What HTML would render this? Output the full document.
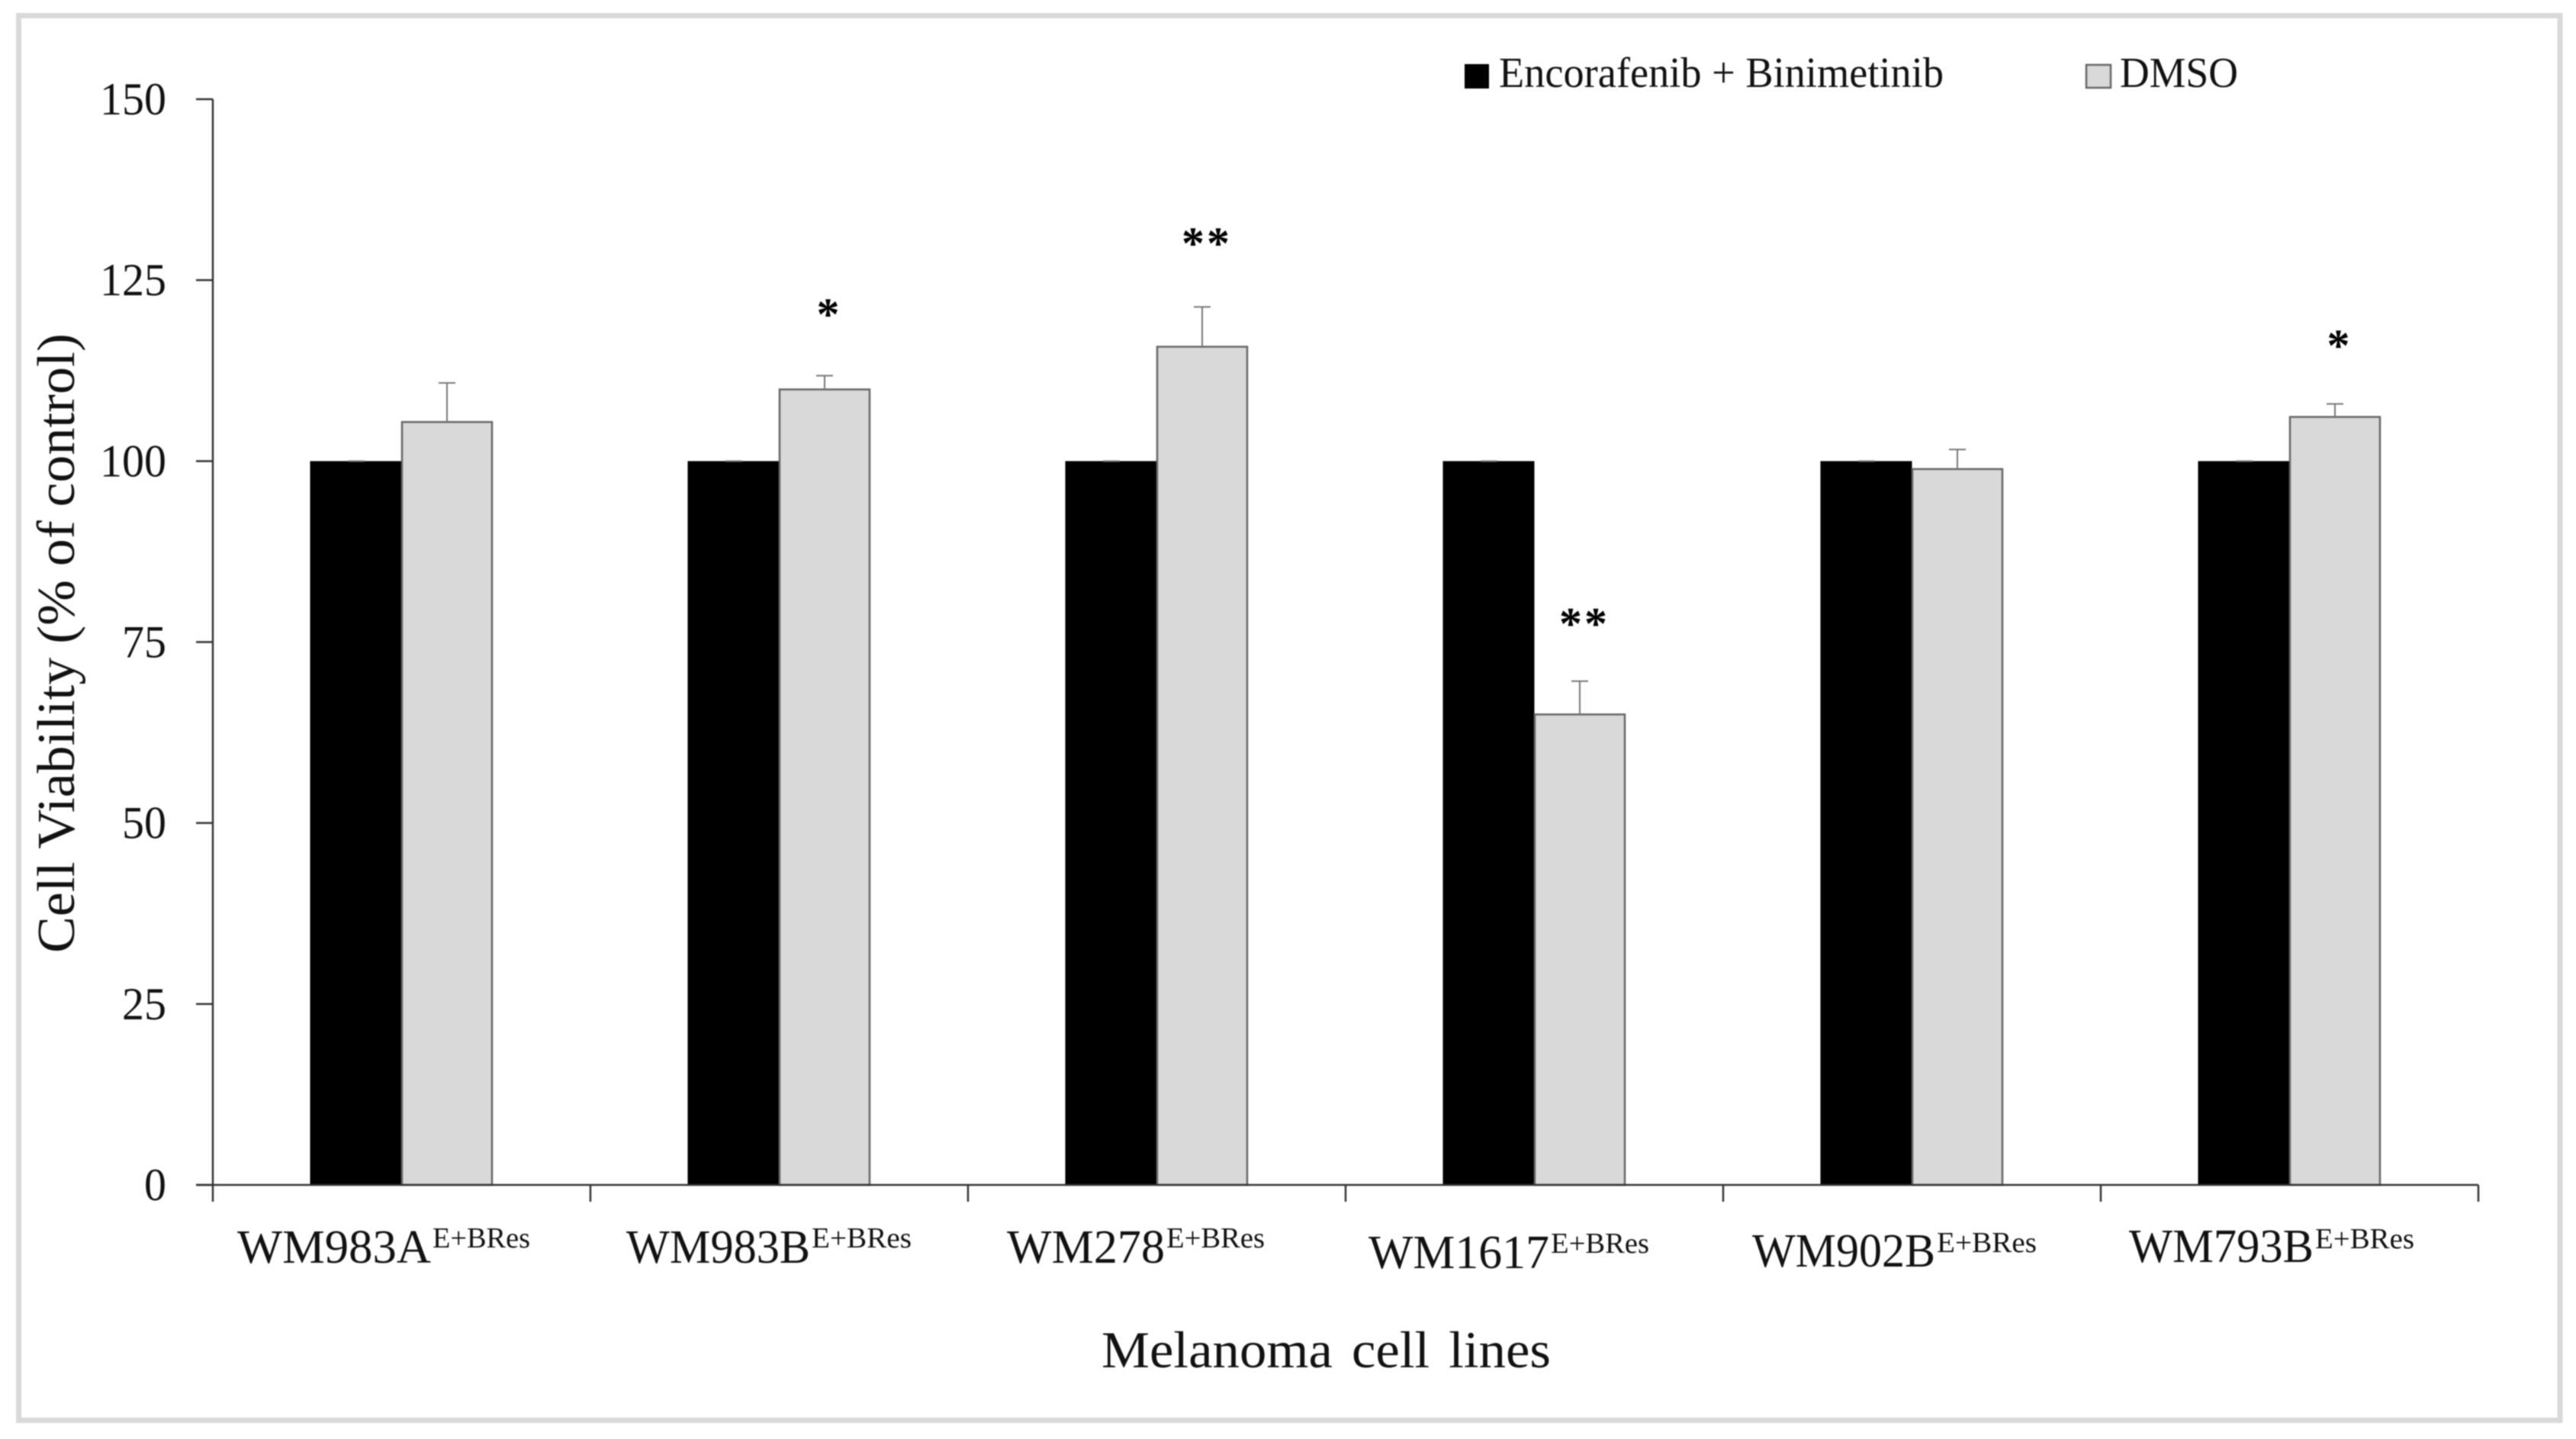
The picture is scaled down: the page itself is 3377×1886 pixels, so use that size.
<!DOCTYPE html>
<html lang="en">
<head>
<meta charset="utf-8">
<title>Cell Viability of Melanoma Cell Lines</title>
<style>
html,body{margin:0;padding:0;background:#fff;}
svg{display:block;filter:blur(0.7px);}
text{font-family:"Liberation Serif",serif;fill:#111;}
</style>
</head>
<body>
<svg id="chart" xmlns="http://www.w3.org/2000/svg" width="3377" height="1886" viewBox="0 0 3377 1886">
  <rect x="0" y="0" width="3377" height="1886" fill="#fff"/>
  <rect x="24.5" y="20.5" width="3331.5" height="1841" fill="none" stroke="#d9d9d9" stroke-width="7"/>

  <g id="bars"></g>
  <g id="axes"></g>

  <text transform="translate(97,1249) rotate(-90)" font-size="70" textLength="812" lengthAdjust="spacingAndGlyphs">Cell Viability (% of control)</text>
  <text x="1444" y="1792" font-size="68" textLength="589" lengthAdjust="spacingAndGlyphs" word-spacing="7">Melanoma cell lines</text>

  <g>
    <text x="311" y="1655" font-size="62" textLength="254" lengthAdjust="spacingAndGlyphs">WM983A</text>
    <text x="567" y="1635" font-size="38" textLength="128" lengthAdjust="spacingAndGlyphs">E+BRes</text>
    <text x="821" y="1655" font-size="62" textLength="241" lengthAdjust="spacingAndGlyphs">WM983B</text>
    <text x="1064" y="1635" font-size="38" textLength="131" lengthAdjust="spacingAndGlyphs">E+BRes</text>
    <text x="1320" y="1655" font-size="62" textLength="207" lengthAdjust="spacingAndGlyphs">WM278</text>
    <text x="1529" y="1635" font-size="38" textLength="129" lengthAdjust="spacingAndGlyphs">E+BRes</text>
    <text x="1794" y="1662" font-size="62" textLength="237" lengthAdjust="spacingAndGlyphs">WM1617</text>
    <text x="2033" y="1642" font-size="38" textLength="129" lengthAdjust="spacingAndGlyphs">E+BRes</text>
    <text x="2297" y="1660" font-size="62" textLength="240" lengthAdjust="spacingAndGlyphs">WM902B</text>
    <text x="2539" y="1641" font-size="38" textLength="131" lengthAdjust="spacingAndGlyphs">E+BRes</text>
    <text x="2791" y="1654" font-size="62" textLength="242" lengthAdjust="spacingAndGlyphs">WM793B</text>
    <text x="3035" y="1636" font-size="38" textLength="130" lengthAdjust="spacingAndGlyphs">E+BRes</text>
  </g>

  <g>
    <rect x="1920" y="84" width="32" height="32" fill="#000"/>
    <text x="1965" y="114" font-size="56" textLength="583" lengthAdjust="spacingAndGlyphs">Encorafenib + Binimetinib</text>
    <rect x="2735" y="85" width="32" height="30" fill="#d9d9d9" stroke="#666" stroke-width="2.5"/>
    <text x="2779" y="114" font-size="56" textLength="155" lengthAdjust="spacingAndGlyphs">DMSO</text>
  </g>
</svg>
<script>
// Chart data
const categories = ["WM983A", "WM983B", "WM278", "WM1617", "WM902B", "WM793B"];
const comboValues = [100, 100, 100, 100, 100, 100];
const comboErrors = [0, 0, 0, 0, 0, 0];
const dmsoValues = [105.4, 109.9, 115.8, 65.0, 98.9, 106.1];
const dmsoErrors = [5.4, 1.9, 5.5, 4.6, 2.7, 1.8];
const significance = ["", "*", "**", "**", "", "*"];
const significanceLevels = [0, 121.2, 131.0, 78.5, 0, 116.9];
const yTickValues = [0, 25, 50, 75, 100, 125, 150];

// Axis functions
const NS = "http://www.w3.org/2000/svg";
const plotLeft = 279, plotRight = 3249, plotBottom = 1553, plotTop = 130;
const yMax = 150;
const groupWidth = (plotRight - plotLeft) / categories.length;
const barWidth = 119;
function yScale(v) { return plotBottom - (v / yMax) * (plotBottom - plotTop); }
function groupCenter(i) { return plotLeft + groupWidth * (i + 0.5); }

const barsLayer = document.getElementById("bars");
const axesLayer = document.getElementById("axes");

function make(tag, attrs, parent) {
  const el = document.createElementNS(NS, tag);
  for (const k in attrs) el.setAttribute(k, attrs[k]);
  parent.appendChild(el);
  return el;
}

function drawError(cx, value, error, slug, i) {
  const top = yScale(value + error);
  const base = yScale(value);
  const stem = make("line", {x1: cx, x2: cx, y1: base, y2: top, stroke: "#777", "stroke-width": 2}, barsLayer);
  
  
  const cap = make("line", {x1: cx - 11, x2: cx + 11, y1: top, y2: top, stroke: "#777", "stroke-width": 2}, barsLayer);
  
  
}

categories.forEach(function (cat, i) {
  const c = groupCenter(i);
  const comboBar = make("rect", {
    x: c - barWidth - 1, y: yScale(comboValues[i]), width: barWidth + 1,
    height: plotBottom - yScale(comboValues[i]), fill: "#000"
  }, barsLayer);
  
  

  const dmsoBar = make("rect", {
    x: c + 0.5, y: yScale(dmsoValues[i]), width: barWidth - 1,
    height: plotBottom - yScale(dmsoValues[i]), fill: "#d9d9d9", stroke: "#666", "stroke-width": 2.5
  }, barsLayer);
  
  

  drawError(c - barWidth / 2, comboValues[i], comboErrors[i], 'encorafenib-binimetinib', i);
  drawError(c + barWidth / 2, dmsoValues[i], dmsoErrors[i], 'dmso', i);

  if (significance[i]) {
    const star = make("text", {
      x: c + barWidth / 2 + 6, y: yScale(significanceLevels[i]) + 29,
      "font-size": 60, "font-weight": "bold", "text-anchor": "middle", "letter-spacing": 3,
      style: 'fill:#000'
    }, barsLayer);
    star.textContent = significance[i];
    
    
  }
});

// Axes
const yAxisLine = make("line", {x1: plotLeft, x2: plotLeft, y1: plotTop, y2: plotBottom, stroke: "#333", "stroke-width": 2.5}, axesLayer);



const xAxisLine = make("line", {x1: plotLeft - 22, x2: plotRight, y1: plotBottom, y2: plotBottom, stroke: "#333", "stroke-width": 2.5}, axesLayer);



yTickValues.forEach(function (v) {
  const y = yScale(v);
  const tick = make("line", {x1: plotLeft - 22, x2: plotLeft, y1: y, y2: y, stroke: "#333", "stroke-width": 2.5}, axesLayer);
  
  
  const label = make("text", {
    x: 218, y: y + 20, "font-size": 60, "text-anchor": "end",
    textLength: String(v).length * 29, lengthAdjust: "spacingAndGlyphs"
  }, axesLayer);
  label.textContent = String(v);
  
  
});

for (let i = 0; i <= categories.length; i++) {
  const x = plotLeft + groupWidth * i;
  const tick = make("line", {x1: x, x2: x, y1: plotBottom, y2: plotBottom + 22, stroke: "#333", "stroke-width": 2.5}, axesLayer);
  
  
}
</script>
</body>
</html>
